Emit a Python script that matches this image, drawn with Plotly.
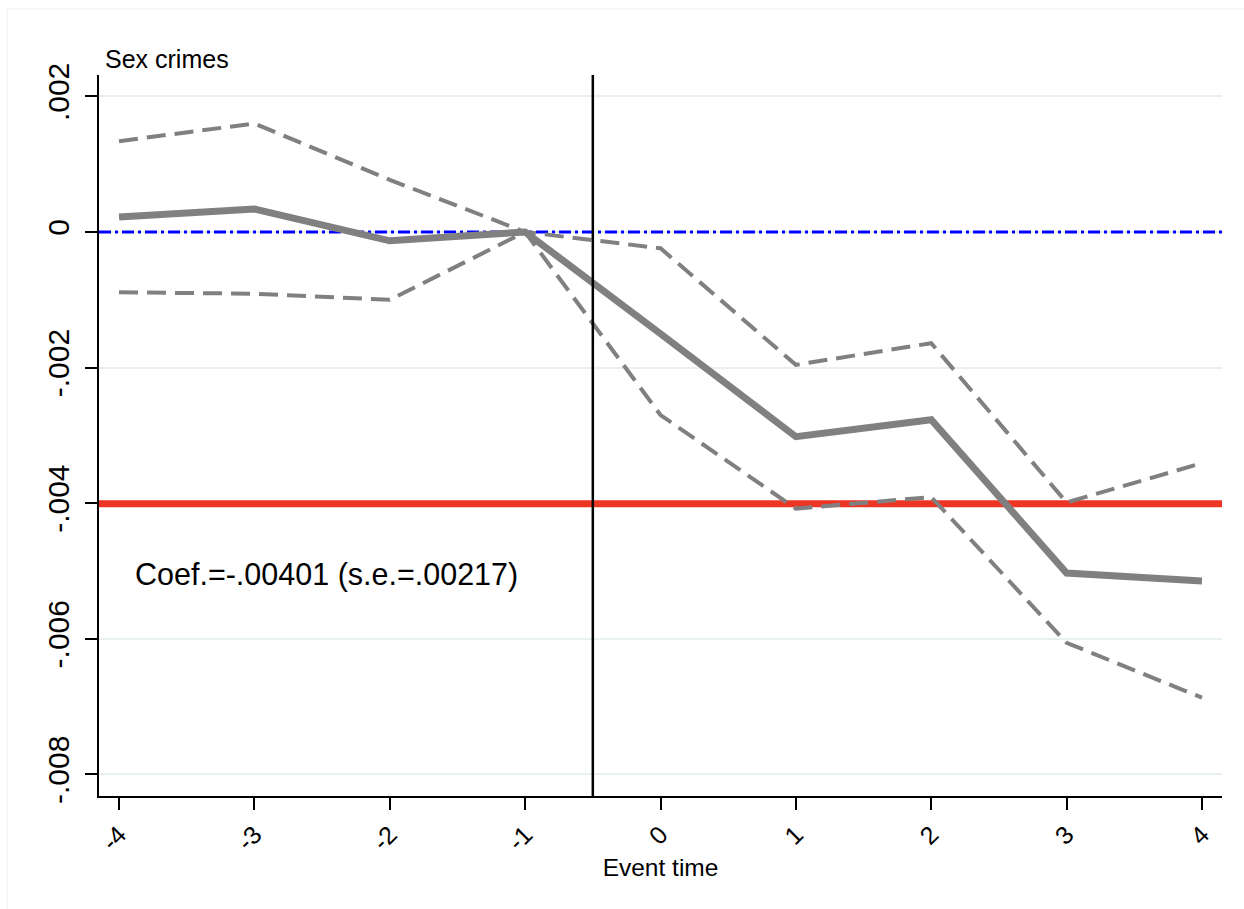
import plotly.graph_objects as go

event_time = [-4, -3, -2, -1, 0, 1, 2, 3, 4]
coef = [0.00022, 0.00034, -0.00013, 0.0, -0.0015, -0.00302, -0.00277, -0.00503, -0.00515]
ci_upper = [0.00134, 0.00160, 0.00077, 0.0, -0.00024, -0.00196, -0.00164, -0.00399, -0.00341]
ci_lower = [-0.00089, -0.00091, -0.00100, 0.0, -0.00270, -0.00408, -0.00391, -0.00606, -0.00687]
pooled_coef = -0.00401
pooled_se = 0.00217
event_line = -0.5
y_ticks = [-0.008, -0.006, -0.004, -0.002, 0.0, 0.002]
y_ticktext = ["-.008", "-.006", "-.004", "-.002", "0", ".002"]
x_ticks = event_time
x_ticktext = [str(v) for v in event_time]

FONT = "Liberation Sans, Arial, Helvetica, sans-serif"
xr = [-4.148, 4.148]
yr = [-0.00832, 0.002316]

fig = go.Figure()

# reference lines
fig.add_trace(go.Scatter(x=xr, y=[pooled_coef, pooled_coef], mode="lines",
                         line=dict(color="#ee3524", width=7), hoverinfo="skip", showlegend=False))
fig.add_trace(go.Scatter(x=xr, y=[0, 0], mode="lines",
                         line=dict(color="#0000ff", width=3, dash="12px,4px,3px,4px"),
                         hoverinfo="skip", showlegend=False))

# CI lines
fig.add_trace(go.Scatter(x=event_time, y=ci_upper, mode="lines",
                         line=dict(color="#808080", width=4, dash="19px,9px"), showlegend=False))
fig.add_trace(go.Scatter(x=event_time, y=ci_lower, mode="lines",
                         line=dict(color="#808080", width=4, dash="19px,9px"), showlegend=False))
# point estimates
fig.add_trace(go.Scatter(x=event_time, y=coef, mode="lines",
                         line=dict(color="#808080", width=7), showlegend=False))

# vertical event line
fig.add_trace(go.Scatter(x=[event_line, event_line], y=yr, mode="lines",
                         line=dict(color="black", width=2.5), hoverinfo="skip", showlegend=False))

fig.update_layout(
    width=1244, height=909,
    margin=dict(l=99, r=22, t=75, b=113),
    paper_bgcolor="white", plot_bgcolor="white",
    font=dict(family=FONT, color="black"),
    xaxis=dict(range=xr, tickvals=x_ticks, ticktext=x_ticktext, tickangle=-45,
               showgrid=False, zeroline=False, showline=True, linecolor="black", linewidth=2,
               ticks="outside", ticklen=12, tickwidth=2, tickcolor="black",
               tickfont=dict(size=25, family=FONT),
               title=dict(text="Event time", font=dict(size=24.5, family=FONT), standoff=4)),
    yaxis=dict(range=yr, tickvals=y_ticks, ticktext=y_ticktext, tickangle=-90,
               showgrid=True, gridcolor="#e9f0f2", gridwidth=2, zeroline=False,
               showline=True, linecolor="black", linewidth=2,
               ticks="outside", ticklen=12, tickwidth=2, tickcolor="black",
               tickfont=dict(size=30, family=FONT), ticklabelstandoff=4),
    annotations=[
        dict(text="Sex crimes", xref="paper", yref="paper", x=0.004, y=1.022,
             xanchor="left", yanchor="middle", showarrow=False,
             font=dict(size=25, family=FONT)),
        dict(text=f"Coef.={pooled_coef:.5f}".replace("0.", ".", 1) + f" (s.e.={pooled_se:.5f})".replace("0.", ".", 1),
             xref="x", yref="y", x=-3.9, y=-0.00505,
             xanchor="left", yanchor="middle", showarrow=False,
             font=dict(size=30.5, family=FONT)),
    ],
    shapes=[dict(type="rect", xref="paper", yref="paper", x0=-0.0819, y0=-0.25, x1=1.1, y1=1.0915,
                 line=dict(color="#eeeeee", width=1), layer="below")],
)

fig.write_html("out.html")
